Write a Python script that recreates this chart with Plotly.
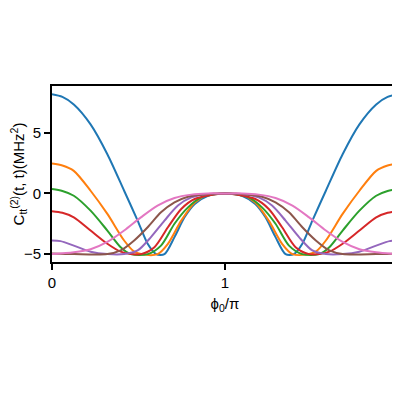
import plotly.graph_objects as go

x_half = [0.0, 0.06, 0.126, 0.223, 0.32, 0.417, 0.495, 0.553, 0.602, 0.65, 0.708, 0.766, 0.825, 0.902, 1.0]
blue   = [8.17, 7.95, 7.33, 5.69, 3.23, 0.22, -2.24, -4.15, -5.0, -5.0, -3.6, -1.97, -0.87, -0.19, 0.0]

x_o = [0.0, 0.06, 0.126, 0.223, 0.32, 0.417, 0.475, 0.514, 0.61, 0.67, 0.747, 0.825, 0.902, 1.0]
orange = [2.46, 2.3, 1.86, 0.22, -1.69, -3.88, -4.8, -5.0, -5.0, -4.15, -2.24, -0.74, -0.1, 0.0]

x_g = [0.0, 0.06, 0.126, 0.223, 0.32, 0.397, 0.456, 0.553, 0.63, 0.708, 0.786, 0.863, 1.0]
green = [0.36, 0.2, -0.19, -1.42, -3.06, -4.43, -5.0, -5.0, -4.3, -2.5, -1.15, -0.33, 0.0]

x_r = [0.0, 0.06, 0.126, 0.223, 0.32, 0.397, 0.456, 0.514, 0.592, 0.67, 0.747, 0.825, 1.0]
red = [-1.47, -1.6, -1.97, -3.06, -4.15, -4.8, -5.0, -5.0, -4.43, -2.79, -1.28, -0.46, 0.0]

x_p = [0.0, 0.049, 0.126, 0.223, 0.32, 0.417, 0.495, 0.572, 0.65, 0.728, 0.805, 0.902, 1.0]
purple = [-3.88, -3.93, -4.3, -4.8, -5.0, -5.0, -4.7, -3.6, -2.24, -1.0, -0.33, -0.05, 0.0]

x_b = [0.0, 0.126, 0.32, 0.397, 0.475, 0.553, 0.63, 0.708, 0.786, 0.902, 1.0]
brown = [-4.95, -5.0, -5.0, -4.7, -3.88, -2.79, -1.56, -0.74, -0.27, -0.05, 0.0]

x_k = [0.0, 0.126, 0.223, 0.32, 0.417, 0.514, 0.61, 0.708, 0.805, 0.9, 1.0]
pink = [-5.0, -4.85, -4.6, -4.0, -3.06, -1.97, -1.0, -0.38, -0.1, 0.0, 0.0]

series = [(x_half, blue, "#1f77b4"), (x_o, orange, "#ff7f0e"), (x_g, green, "#2ca02c"),
          (x_r, red, "#d62728"), (x_p, purple, "#9467bd"), (x_b, brown, "#8c564b"),
          (x_k, pink, "#e377c2")]

fig = go.Figure()
for xs, ys, c in series:
    fx = xs + [2 - v for v in reversed(xs[:-1])]
    fy = ys + list(reversed(ys[:-1]))
    fig.add_trace(go.Scatter(x=fx, y=fy, mode="lines", line=dict(color=c, width=2, shape="spline", smoothing=0.8), showlegend=False))

ax = dict(showline=True, linecolor="black", linewidth=2, mirror=True, ticks="outside",
          ticklen=6, tickwidth=1.5, tickcolor="black", showgrid=False, zeroline=False,
          tickfont=dict(size=15, color="black"), automargin=False, ticklabeloverflow="allow")
fig.update_layout(
    width=400, height=392, plot_bgcolor="white", paper_bgcolor="white",
    margin=dict(l=44, r=10, t=78, b=138),
    font=dict(family="Liberation Sans, Arial", color="black"),
    xaxis=dict(range=[0, 2], tickvals=[0, 1, 2], title=dict(text="ϕ<sub>0</sub>/π", font=dict(size=15), standoff=8), **ax),
    yaxis=dict(range=[-5.65, 8.85], tickvals=[-5, 0, 5], title=dict(text="C<sub>tt</sub><sup>(2)</sup>(t, t)(MHz<sup>2</sup>)", font=dict(size=15), standoff=4), **ax),
)
fig.write_html("out.html")
